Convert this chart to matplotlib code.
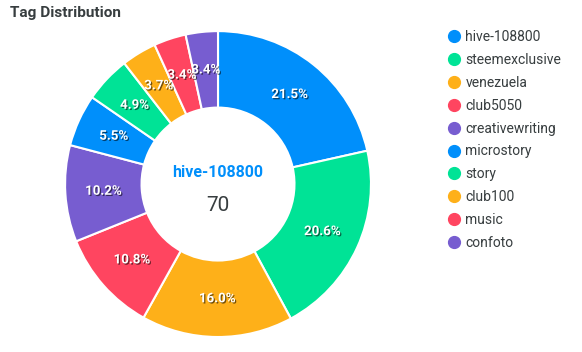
import matplotlib.pyplot as plt
import matplotlib.patheffects as pe
from matplotlib.lines import Line2D

plt.rcParams['font.family'] = ['Roboto', 'DejaVu Sans']

tags = ['hive-108800', 'steemexclusive', 'venezuela', 'club5050', 'creativewriting',
        'microstory', 'story', 'club100', 'music', 'confoto']
shares = [21.5, 20.6, 16.0, 10.8, 10.2, 5.5, 4.9, 3.7, 3.4, 3.4]
palette = ['#008FFB', '#00E396', '#FEB019', '#FF4560', '#775DD0']
colors = [palette[i % 5] for i in range(len(tags))]
center_label = 'hive-108800'
center_value = '70'

fig = plt.figure(figsize=(5.82, 3.52), dpi=100)
ax = fig.add_axes([0.1117, 0.0426, 0.5258, 0.869])

wedges, texts, autotexts = ax.pie(
    shares, colors=colors, startangle=90, counterclock=False,
    radius=1.0, pctdistance=0.75, autopct='%1.1f%%',
    wedgeprops=dict(width=0.5, edgecolor='white', linewidth=1.5),
    textprops=dict(color='white', fontsize=9.6, fontweight='bold'))
for t in autotexts:
    t.set_path_effects([pe.SimplePatchShadow(offset=(0.9, -0.9), shadow_rgbFace='black', alpha=0.55),
                        pe.Normal()])
ax.set_xlim(-1, 1)
ax.set_ylim(-1, 1)
ax.set_aspect('equal')

ax.text(0, 0.078, center_label, ha='center', va='center', color='#008FFB',
        fontsize=11.5, fontweight='bold')
ax.text(0, -0.137, center_value, ha='center', va='center', color='#373d3f', fontsize=15)

fig.text(10 / 582, 1 - 13 / 352, 'Tag Distribution', ha='left', va='center',
         fontsize=11.1, fontweight='bold', color='#373d3f')

handles = [Line2D([], [], marker='o', linestyle='none', markersize=8.5,
                  markerfacecolor=c, markeredgecolor=c) for c in colors]
leg = fig.legend(handles, tags, loc='upper left', bbox_to_anchor=(439 / 582, 1 - 23 / 352),
                 frameon=False, fontsize=10, labelspacing=0.64, handletextpad=0.2,
                 handlelength=1.2, borderpad=0)
for t in leg.get_texts():
    t.set_color('#373d3f')

fig.savefig('out.png', dpi=100)
